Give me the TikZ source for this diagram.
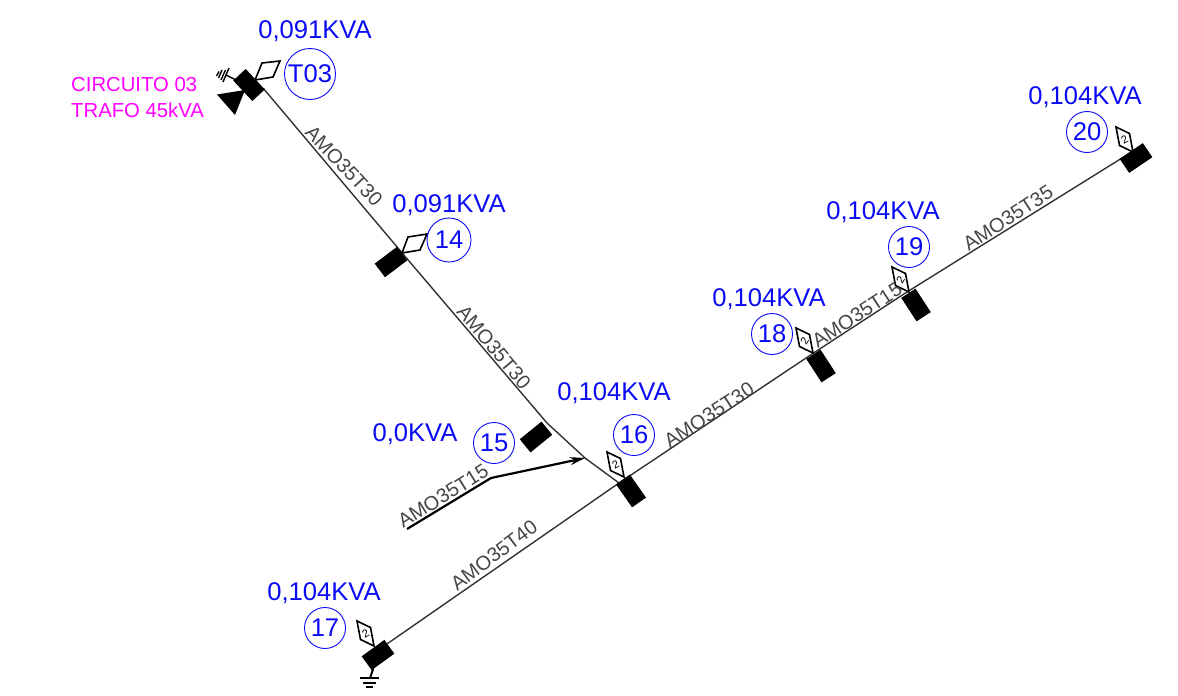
\documentclass[tikz,border=0pt]{standalone}
\usepackage{fontspec}
\setmainfont{Liberation Sans}
\usetikzlibrary{arrows.meta}
\definecolor{bluetxt}{RGB}{10,10,245}
\definecolor{magtxt}{RGB}{255,0,255}
\definecolor{wiretxt}{RGB}{50,50,50}
\definecolor{cabletxt}{RGB}{70,70,70}
\tikzset{
  polebox/.style={fill=black,draw=none,minimum width=28pt,minimum height=17pt,inner sep=0pt,outer sep=0pt},
  wire/.style={draw=wiretxt,line width=1.4pt},
  kva/.style={text=bluetxt,inner sep=0pt,font=\fontsize{25.6}{28}\selectfont},
  idcircle/.style={draw=bluetxt,circle,line width=0.9pt,minimum size=44pt,inner sep=0pt,text=bluetxt,font=\fontsize{25.6}{28}\selectfont},
  cable/.style={text=cabletxt,inner sep=0pt,font=\fontsize{20}{24}\selectfont},
  magtext/.style={text=magtxt,inner sep=0pt,font=\fontsize{20.3}{24}\selectfont,anchor=west},
  loadshape/.style={draw=black,line width=1.6pt,fill=white,line join=miter},
  smalltwo/.style={inner sep=0pt,font=\fontsize{11}{11}\selectfont,text=black},
}
\newcommand{\smallload}[4]{% tip x, y, name, text rotation
  \draw[loadshape] (#1,#2) -- ++(-13.5,-6.5) -- ++(-3.5,-18.5) -- ++(13.5,6.5) -- cycle;
  \node[smalltwo,rotate=#4] (#3) at (#1-8.5,#2-12.5) {2};
}
\begin{document}
\begin{tikzpicture}[x=1pt,y=-1pt]
\useasboundingbox (0,0) rectangle (1178,696);
% junctions
\coordinate (jT) at (263,88);
\coordinate (j14) at (403,254);
\coordinate (j15) at (547,423);
\coordinate (jb) at (585,458);
\coordinate (j16) at (619,483);
\coordinate (j17) at (384,646);
\coordinate (j18) at (812,354);
\coordinate (j19) at (907,292);
\coordinate (j20) at (1122,158);
\coordinate (a0) at (407,529);
\coordinate (a1) at (491,478);
% wires
\draw[wire] (jT) -- (j14) -- (j15) -- (jb) -- (j16);
\draw[wire] (j17) -- (j16) -- (j18) -- (j19) -- (j20);
% arrow
\draw[line width=2.2pt,black,-{Stealth[length=15pt,width=8pt]}] (a0) -- (a1) -- (jb);
% poles
\node[polebox,rotate=-47] (pT) at (249,85) {};
\node[polebox,rotate=37] (p14) at (391,262) {};
\node[polebox,rotate=39] (p15) at (536,437) {};
\node[polebox,rotate=-55] (p16) at (631,491) {};
\node[polebox,rotate=36] (p17) at (378,655) {};
\node[polebox,rotate=-57] (p18) at (821,366) {};
\node[polebox,rotate=-57] (p19) at (916,305) {};
\node[polebox,rotate=34] (p20) at (1136,158) {};
% small loads
\smallload{624}{477}{l16}{30}
\smallload{374}{646}{l17}{30}
\smallload{813}{353}{l18}{60}
\smallload{909}{292}{l19}{60}
\smallload{1133}{152}{l20}{30}
% large loads
\draw[loadshape] (255,80) -- (262,63) -- (280,61) -- (273,77) -- cycle;
\draw[loadshape] (402,253) -- (408,237) -- (427,234) -- (420,250) -- cycle;
% triangle and ground at T03
\fill[black] (217,94.5) -- (245,90) -- (235,115) -- cycle;
\draw[black,line width=1.4pt] (236,80) -- (226,75) (229,68) -- (223,82);
\draw[black,line width=1.4pt] (225.5,70) -- (221,80) (222,70) -- (218.5,78) (219,71.5) -- (216.5,76);
% ground at 17
\coordinate (g17) at (370,678);
\draw[black,line width=2pt] (p17) -- (g17);
\draw[black,line width=1.4pt] (360,678) -- (379,678) (363,683) -- (376,683) (366,687) -- (373,687);
% circles
\node[idcircle,minimum size=51pt] (cT) at (310,74) {T03};
\node[idcircle] (c14) at (449,240) {14};
\node[idcircle,minimum size=41pt] (c15) at (494,443) {15};
\node[idcircle,minimum size=41pt] (c16) at (634,435) {16};
\node[idcircle,minimum size=41pt] (c17) at (325,628) {17};
\node[idcircle,minimum size=41pt] (c18) at (772,334) {18};
\node[idcircle,minimum size=41pt] (c19) at (909,247) {19};
\node[idcircle,minimum size=41pt] (c20) at (1087,132) {20};
% KVA
\node[kva] (kT) at (315,31) {0,091KVA};
\node[kva] (k14) at (449,205) {0,091KVA};
\node[kva] (k15) at (415,434) {0,0KVA};
\node[kva] (k16) at (614,393) {0,104KVA};
\node[kva] (k17) at (324,593) {0,104KVA};
\node[kva] (k18) at (769,299) {0,104KVA};
\node[kva] (k19) at (883,212) {0,104KVA};
\node[kva] (k20) at (1085,97) {0,104KVA};
% cables
\node[cable,rotate=-47] (w1) at (344,166) {AMO35T30};
\node[cable,rotate=-50] (w2) at (494,347) {AMO35T30};
\node[cable,rotate=32] (w3) at (443,496) {AMO35T15};
\node[cable,rotate=37] (w4) at (494,555) {AMO35T40};
\node[cable,rotate=33] (w5) at (709,415) {AMO35T30};
\node[cable,rotate=33] (w6) at (857,315) {AMO35T15};
\node[cable,rotate=33] (w7) at (1008,218) {AMO35T35};
% title
\node[magtext] (m1) at (71,85) {CIRCUITO 03};
\node[magtext] (m2) at (71,110) {TRAFO 45kVA};
\end{tikzpicture}
\end{document}
